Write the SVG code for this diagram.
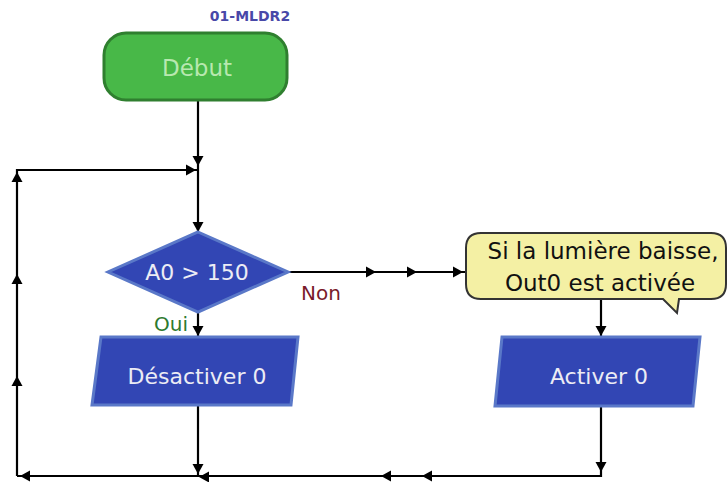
<svg xmlns="http://www.w3.org/2000/svg" xmlns:xlink="http://www.w3.org/1999/xlink" width="728" height="482" viewBox="0 0 728 482">
<style>
.ln{stroke:#000;stroke-width:2.2;fill:none}
.ah{fill:#000}
.blk{fill:#3246b4;stroke:#5a78c8;stroke-width:3}
.wt{font-family:"DejaVu Sans",sans-serif;font-size:22px;fill:#ececf4;text-anchor:middle}
</style>
<defs>
<path id="ah" d="M0,0 L-10,-5.5 L-10,5.5 Z"/>
</defs>
<rect width="728" height="482" fill="#fff"/>
<text x="250" y="21" font-family="DejaVu Sans,sans-serif" font-size="14" font-weight="bold" fill="#4848a8" text-anchor="middle">01-MLDR2</text>
<g id="connectors">
<path class="ln" d="M198,100 V232"/>
<path class="ln" d="M17,476 V170 H198"/>
<path class="ln" d="M288,272 H465"/>
<path class="ln" d="M198,312 V337"/>
<path class="ln" d="M198,405 V476"/>
<path class="ln" d="M601,299 V337"/>
<path class="ln" d="M601,406 V476 H17"/>
<g class="ah">
<use xlink:href="#ah" transform="translate(198,166) rotate(90)"/>
<use xlink:href="#ah" transform="translate(196,170)"/>
<use xlink:href="#ah" transform="translate(198,232) rotate(90)"/>
<use xlink:href="#ah" transform="translate(17,172) rotate(-90)"/>
<use xlink:href="#ah" transform="translate(17,274) rotate(-90)"/>
<use xlink:href="#ah" transform="translate(17,376) rotate(-90)"/>
<use xlink:href="#ah" transform="translate(20,476) rotate(180)"/>
<use xlink:href="#ah" transform="translate(376,272)"/>
<use xlink:href="#ah" transform="translate(417,272)"/>
<use xlink:href="#ah" transform="translate(463,272)"/>
<use xlink:href="#ah" transform="translate(198,336) rotate(90)"/>
<use xlink:href="#ah" transform="translate(198,474) rotate(90)"/>
<use xlink:href="#ah" transform="translate(199,477) rotate(180)"/>
<use xlink:href="#ah" transform="translate(601,336) rotate(90)"/>
<use xlink:href="#ah" transform="translate(601,472) rotate(90)"/>
<use xlink:href="#ah" transform="translate(381,476) rotate(180)"/>
<use xlink:href="#ah" transform="translate(422,476) rotate(180)"/>
</g>
<text x="154" y="331" font-family="DejaVu Sans,sans-serif" font-size="20" fill="#2e7a2e">Oui</text>
<text x="301" y="300" font-family="DejaVu Sans,sans-serif" font-size="20" fill="#7a1a2a">Non</text>
</g>
<g id="debut">
<rect x="104" y="33" width="183" height="67" rx="22" fill="#48b848" stroke="#2f7f2f" stroke-width="3"/>
<text x="197" y="76" font-family="DejaVu Sans,sans-serif" font-size="23" fill="#b8e8b0" text-anchor="middle">Début</text>
</g>
<g id="decision">
<polygon points="198,232 288,272 198,312 108,272" class="blk"/>
<text x="197" y="280" class="wt">A0 &gt; 150</text>
</g>
<g id="desactiver">
<polygon points="101,337 298,337 291,405 92,405" class="blk"/>
<text x="197" y="384" class="wt">Désactiver 0</text>
</g>
<g id="callout">
<path d="M481,233 H711 Q726,233 726,248 V284 Q726,299 711,299 H679 L677,313 L663,299 H481 Q466,299 466,284 V248 Q466,233 481,233 Z" fill="#f4f0a4" stroke="#333" stroke-width="2"/>
<text x="603" y="259" font-family="DejaVu Sans,sans-serif" font-size="23" fill="#111" text-anchor="middle">Si la lumière baisse,</text>
<text x="600" y="291" font-family="DejaVu Sans,sans-serif" font-size="23" fill="#111" text-anchor="middle">Out0 est activée</text>
</g>
<g id="activer">
<polygon points="502,337 700,337 693,406 495,406" class="blk"/>
<text x="599" y="384" class="wt">Activer 0</text>
</g>
</svg>
